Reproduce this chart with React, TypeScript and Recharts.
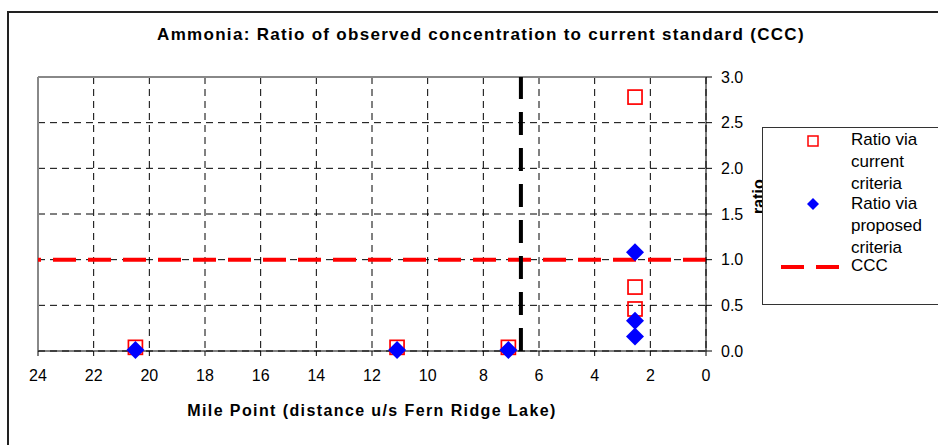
import { ScatterChart, Scatter, XAxis, YAxis, CartesianGrid, ReferenceLine } from "recharts";

const mileCurrent = [20.5, 11.1, 7.1, 2.55, 2.55, 2.55];
const ratioCurrent = [0.04, 0.04, 0.04, 2.78, 0.7, 0.46];
const mileProposed = [20.5, 11.1, 7.1, 2.55, 2.55, 2.55];
const ratioProposed = [0.01, 0.01, 0.01, 1.08, 0.33, 0.16];
const xTicks = [0, 2, 4, 6, 8, 10, 12, 14, 16, 18, 20, 22, 24];
const yTicks = [0, 0.5, 1, 1.5, 2, 2.5, 3];
const cccValue = 1;
const dividerMile = 6.65;

const currentData = mileCurrent.map((m, i) => ({ mile: m, ratio: ratioCurrent[i] }));
const proposedData = mileProposed.map((m, i) => ({ mile: m, ratio: ratioProposed[i] }));

const font = "'Liberation Sans', Arial, sans-serif";

const Square = (props: any) => {
  const { cx, cy } = props;
  return <rect x={cx - 7} y={cy - 7} width={14} height={14} fill="none" stroke="#ff0000" strokeWidth={1.7} />;
};

const Diamond = (props: any) => {
  const { cx, cy } = props;
  return <polygon points={`${cx},${cy - 9} ${cx + 9},${cy} ${cx},${cy + 9} ${cx - 9},${cy}`} fill="#0000ff" />;
};

// legend drawn as a plain box over the chart, like the original (it hides most of the "ratio" label)
const LegendBox = () => (
  <div
    style={{
      position: "absolute",
      left: 762,
      top: 127,
      width: 200,
      height: 176,
      background: "#fff",
      border: "1px solid #333",
      fontFamily: font,
      fontSize: 17,
      lineHeight: "22px",
      color: "#000",
    }}
  >
    <svg width={80} height={176} style={{ position: "absolute", left: 0, top: 0 }}>
      <rect x={45} y={8} width={10} height={10} fill="none" stroke="#ff0000" strokeWidth={1.5} />
      <polygon points="50,70 56,76 50,82 44,76" fill="#0000ff" />
      <line x1={18} x2={78} y1={139} y2={139} stroke="#ff0000" strokeWidth={4} strokeDasharray="23 12" />
    </svg>
    <div style={{ position: "absolute", left: 88, top: 1 }}>
      Ratio via<br />current<br />criteria
    </div>
    <div style={{ position: "absolute", left: 88, top: 65 }}>
      Ratio via<br />proposed<br />criteria
    </div>
    <div style={{ position: "absolute", left: 88, top: 127 }}>CCC</div>
  </div>
);

export default function App() {
  return (
    <div style={{ position: "absolute", left: 0, top: 0, width: 938, height: 445, overflow: "hidden", background: "#fff" }}>
      <div
        style={{
          position: "absolute",
          left: 7,
          top: 11,
          width: 1000,
          height: 500,
          border: "2px solid #222",
        }}
      />
      <div
        style={{
          position: "absolute",
          left: 0,
          top: 25,
          width: 962,
          textAlign: "center",
          fontFamily: font,
          fontWeight: "bold",
          fontSize: 17,
          letterSpacing: 1.3,
          color: "#000",
        }}
      >
        Ammonia: Ratio of observed concentration to current standard (CCC)
      </div>
      <div style={{ position: "absolute", left: 0, top: 0 }}>
        <ScatterChart width={938} height={445} margin={{ top: 77, right: 192, bottom: 64, left: 38 }}>
          <CartesianGrid stroke="#000" strokeDasharray="7 5" />
          <XAxis
            type="number"
            dataKey="mile"
            domain={[0, 24]}
            ticks={xTicks}
            reversed
            height={30}
            tickSize={5}
            tickMargin={14}
            stroke="#000"
            tick={{ fill: "#000", fontSize: 16, fontFamily: font }}
            label={{
              value: "Mile Point (distance u/s Fern Ridge Lake)",
              position: "bottom",
              offset: 24,
              style: { fontFamily: font, fontWeight: "bold", fontSize: 16, letterSpacing: 1.4, fill: "#000" },
            }}
          />
          <YAxis
            type="number"
            dataKey="ratio"
            orientation="right"
            domain={[0, 3]}
            ticks={yTicks}
            width={40}
            tickSize={6}
            tickMargin={9}
            stroke="#000"
            tickFormatter={(v: number) => v.toFixed(1)}
            tick={{ fill: "#000", fontSize: 16, fontFamily: font, textAnchor: "start" }}
            label={{
              value: "ratio",
              angle: -90,
              position: "right",
              offset: 12,
              style: { fontFamily: font, fontWeight: "bold", fontSize: 16, fill: "#000" },
            }}
          />
          <ReferenceLine y={3} stroke="#888" strokeWidth={2} />
          <ReferenceLine x={24} stroke="#888" strokeWidth={2} />
          <ReferenceLine y={cccValue} stroke="#ff0000" strokeWidth={4} strokeDasharray="23 12" />
          <ReferenceLine x={dividerMile} stroke="#000" strokeWidth={4} strokeDasharray="23 13" />
          <Scatter name="Ratio via current criteria" data={currentData} shape={Square} isAnimationActive={false} />
          <Scatter name="Ratio via proposed criteria" data={proposedData} shape={Diamond} isAnimationActive={false} />
        </ScatterChart>
      </div>
      <LegendBox />
    </div>
  );
}
